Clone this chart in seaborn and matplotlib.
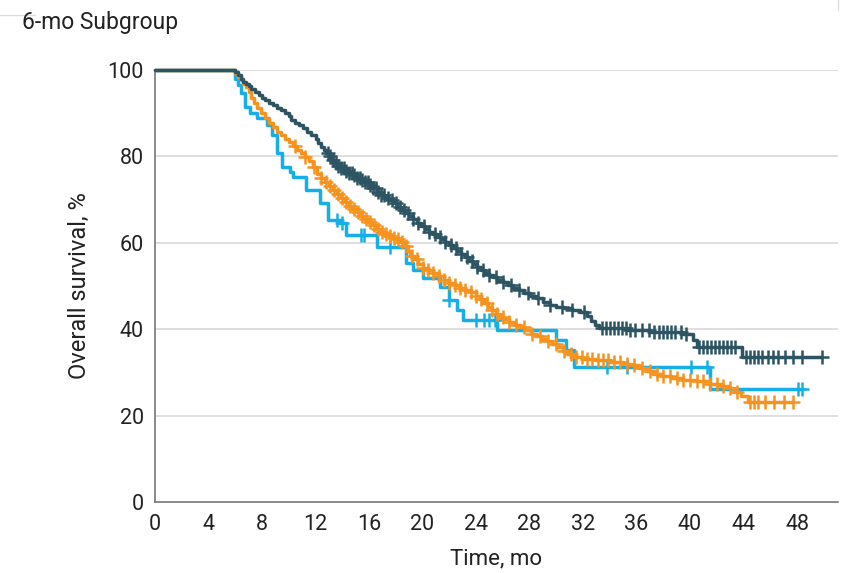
import numpy as np
import pandas as pd
import matplotlib
matplotlib.use("Agg")
import matplotlib.pyplot as plt
import matplotlib.lines as mlines
import seaborn as sns

# ---------------- data ----------------
# Kaplan-Meier step points (time in months, survival %)
dark_t = [0, 6.0, 6.2, 6.4, 6.6, 6.8, 7.0, 7.2, 7.5, 7.8, 8.0, 8.2, 8.5, 8.8, 9.1, 9.4, 9.7, 10.0,
          10.2, 10.5, 10.8, 11.1, 11.4, 11.7, 12.0, 12.2, 12.4, 12.6, 12.8, 13.0, 13.2, 13.4, 13.6,
          13.9, 14.2, 14.5, 14.8, 15.1, 15.4, 15.7, 16.0, 16.3, 16.6, 16.9, 17.2, 17.5, 17.8, 18.1,
          18.4, 18.7, 19.0, 19.3, 19.6, 19.9, 20.2, 20.5, 20.8, 21.1, 21.4, 21.7, 22.0, 22.3, 22.6,
          22.9, 23.2, 23.5, 23.8, 24.1, 24.4, 24.7, 25.0, 25.3, 25.6, 26.0, 26.4, 26.8, 27.2, 27.6,
          28.0, 28.5, 29.0, 29.5, 30.0, 30.6, 31.2, 31.8, 32.3, 32.6, 32.9, 33.2, 35.4, 37.0, 39.5,
          40.2, 40.5, 43.9, 49.9]
dark_s = [100, 99.5, 98.8, 98.0, 97.3, 96.8, 96.2, 95.6, 95.0, 94.2, 93.6, 93.0, 92.3, 91.8, 91.2,
          90.7, 90.1, 89.3, 88.5, 87.7, 87.2, 86.5, 85.7, 85.0, 84.0, 83.0, 82.2, 81.5, 80.8, 80.0,
          79.2, 78.5, 77.8, 77.2, 76.6, 76.1, 75.6, 75.0, 74.5, 74.0, 73.3, 72.6, 71.8, 71.0, 70.4,
          69.8, 69.1, 68.4, 67.7, 67.0, 66.3, 65.5, 64.6, 63.8, 63.2, 62.6, 62.0, 61.4, 60.8, 60.1,
          59.4, 58.8, 58.1, 57.4, 56.7, 55.9, 55.1, 54.4, 53.7, 53.1, 52.5, 52.0, 51.4, 50.9, 50.3,
          49.6, 49.0, 48.4, 47.8, 47.2, 46.3, 45.6, 45.2, 44.8, 44.4, 44.0, 43.0, 42.0, 41.0, 40.3,
          39.8, 39.3, 39.0, 37.5, 35.9, 33.6, 33.6]

orange_t = [0, 6.0, 6.2, 6.4, 6.6, 6.8, 7.0, 7.2, 7.4, 7.6, 7.9, 8.2, 8.5, 8.8, 9.1, 9.4, 9.7, 10.0,
            10.3, 10.6, 10.9, 11.2, 11.5, 11.8, 12.1, 12.4, 12.7, 13.0, 13.3, 13.6, 13.9, 14.2, 14.5,
            14.8, 15.1, 15.4, 15.7, 16.0, 16.3, 16.6, 16.9, 17.2, 17.5, 17.8, 18.1, 18.4, 18.7, 18.9,
            19.1, 19.4, 19.7, 20.0, 20.4, 20.8, 21.2, 21.6, 22.0, 22.4, 22.8, 23.2, 23.6, 24.0, 24.3,
            24.6, 24.9, 25.2, 25.5, 25.8, 26.1, 26.5, 26.9, 27.3, 27.7, 28.1, 28.5, 28.9, 29.3, 29.7,
            30.1, 30.5, 30.9, 31.3, 32.0, 33.0, 34.0, 35.0, 35.6, 36.2, 36.8, 37.3, 37.9, 38.6, 39.5,
            40.5, 41.5, 42.4, 42.9, 43.3, 43.8, 44.3, 47.7]
orange_s = [100, 99.2, 98.4, 97.6, 96.8, 96.0, 95.0, 93.6, 92.3, 91.2, 90.0, 88.8, 87.8, 86.8, 85.7,
            84.9, 84.1, 83.3, 82.5, 81.5, 80.7, 79.8, 78.9, 77.5, 76.0, 75.0, 74.0, 73.1, 72.2, 71.3,
            70.3, 69.4, 68.6, 67.9, 67.1, 66.3, 65.6, 64.9, 64.1, 63.3, 62.5, 62.0, 61.6, 61.2, 60.8,
            60.2, 59.2, 58.0, 57.0, 56.2, 55.0, 54.2, 53.6, 52.9, 52.2, 51.4, 50.7, 50.2, 49.6, 49.1,
            48.5, 47.8, 46.9, 46.0, 45.2, 44.4, 43.6, 42.9, 42.3, 41.7, 41.0, 40.4, 39.7, 39.0, 38.4,
            37.8, 37.2, 36.6, 35.8, 35.0, 34.2, 33.6, 33.2, 32.8, 32.4, 32.0, 31.6, 31.0, 30.3, 29.7,
            29.1, 28.7, 28.3, 27.9, 27.4, 26.9, 26.4, 25.5, 24.6, 23.2, 23.2]

cyan_t = [0, 6.0, 6.2, 6.4, 6.7, 7.1, 7.6, 8.4, 8.75, 9.1, 9.5, 10.1, 10.3, 11.3, 12.3, 12.9, 13.8,
          14.3, 16.6, 18.3, 18.8, 19.3, 20.0, 21.3, 22.0, 22.6, 23.0, 25.6, 30.0, 30.7, 31.3, 41.5,
          48.4]
cyan_s = [100, 98.0, 96.5, 94.6, 91.4, 90.0, 88.8, 87.3, 85.0, 80.8, 77.6, 76.4, 75.2, 72.2, 69.2,
          65.3, 64.6, 61.8, 59.0, 59.0, 55.3, 53.7, 51.8, 49.8, 46.8, 44.4, 42.1, 39.8, 37.5, 35.2,
          31.3, 26.1, 26.1]

# censoring times (months)
dark_cens = [12.9, 13.1, 13.3, 13.5, 13.7, 13.9, 14.1, 14.3, 14.5, 14.7, 14.9, 15.1, 15.3, 15.5,
             15.7, 15.9, 16.1, 16.3, 16.5, 16.7, 16.9, 17.1, 17.4, 17.7, 18.0, 18.3, 18.6, 18.9,
             19.3, 19.7, 20.1, 20.5, 20.9, 21.3, 21.7, 22.1, 22.5, 22.9, 23.3, 23.7, 24.1, 24.5,
             25.0, 25.5, 26.0, 26.6, 27.2, 27.9, 28.6, 29.5, 30.4, 31.2, 32.1, 33.4, 33.7, 34.0,
             34.3, 34.6, 34.9, 35.2, 35.5, 35.9, 36.4, 36.9, 37.3, 37.7, 38.0, 38.3, 38.6, 38.9,
             39.3, 39.7, 40.7, 41.0, 41.3, 41.6, 41.9, 42.2, 42.5, 42.8, 43.1, 43.4, 44.2, 44.5,
             44.8, 45.1, 45.4, 45.8, 46.2, 46.6, 47.1, 47.7, 48.4, 49.9]
orange_cens = [10.5, 11.2, 11.9, 12.4, 12.8, 13.1, 13.4, 13.7, 14.0, 14.3, 14.6, 14.9, 15.2, 15.5,
               15.8, 16.1, 16.4, 16.7, 17.0, 17.3, 17.6, 17.9, 18.2, 18.5, 18.8, 19.2, 19.6, 20.0,
               20.4, 20.8, 21.2, 21.6, 22.0, 22.4, 22.8, 23.2, 23.6, 24.0, 24.4, 24.8, 25.2, 25.6,
               26.0, 26.5, 27.0, 27.6, 28.2, 28.8, 29.4, 30.0, 30.6, 31.1, 31.5, 31.9, 32.3, 32.7,
               33.1, 33.5, 33.9, 34.3, 34.8, 35.3, 35.8, 36.4, 37.0, 37.5, 38.0, 38.5, 39.0, 39.5,
               40.0, 40.5, 41.0, 41.5, 42.0, 42.5, 43.0, 43.5, 44.5, 44.8, 45.1, 45.6, 46.3, 47.0,
               47.7]
cyan_cens = [13.6, 14.0, 15.4, 15.6, 17.6, 22.0, 24.0, 24.6, 25.0, 25.4, 33.8, 35.3, 40.1, 41.3,
             48.1, 48.4]

x_ticks = list(range(0, 49, 4))
y_ticks = [0, 20, 40, 60, 80, 100]

colors = {"dark": "#2c5462", "orange": "#f6931f", "cyan": "#16aee6"}

# ---------------- plot ----------------
sns.set_style("white")
plt.rcParams["font.family"] = ["Roboto", "DejaVu Sans"]

fig = plt.figure(figsize=(8.41, 5.73), dpi=100)
ax = fig.add_axes([155 / 841, 71 / 573, 683 / 841, 432 / 573])

for y in y_ticks[1:]:
    ax.axhline(y, color="#dcdcdc", lw=1.3, zorder=0)


def surv_at(ts, ss, c):
    i = np.searchsorted(ts, c, side="right") - 1
    return ss[i]


groups = [("cyan", cyan_t, cyan_s, cyan_cens),
          ("orange", orange_t, orange_s, orange_cens),
          ("dark", dark_t, dark_s, dark_cens)]

for name, ts, ss, cens in groups:
    curve = pd.DataFrame({"t": ts, "s": ss})
    sns.lineplot(data=curve, x="t", y="s", ax=ax, color=colors[name], lw=2.5,
                 drawstyle="steps-post", estimator=None, sort=False, clip_on=False, zorder=3)
    marks = pd.DataFrame({"t": cens, "s": [surv_at(ts, ss, c) for c in cens]})
    sns.scatterplot(data=marks, x="t", y="s", ax=ax, marker="+", color=colors[name],
                    s=110, linewidth=1.8, zorder=4, clip_on=False)

ax.set_xlim(0, 683 / 13.375)
ax.set_ylim(0, 100)
ax.set_xticks(x_ticks)
ax.set_yticks(y_ticks)
ax.tick_params(axis="both", direction="out", length=6, width=1.2, color="#777777",
               labelsize=15.5, labelcolor="#222222", pad=3)
ax.tick_params(axis="y", pad=2)

for side in ["top", "right"]:
    ax.spines[side].set_visible(False)
for side in ["left", "bottom"]:
    ax.spines[side].set_color("#777777")
    ax.spines[side].set_linewidth(1.2)

ax.set_xlabel("Time, mo", fontsize=16, color="#222222", labelpad=9)
ax.set_ylabel("Overall survival, %", fontsize=17, color="#222222", labelpad=12)

fig.text(22 / 841, 1 - 22 / 573, "6-mo Subgroup", fontsize=16.5, color="#222222",
         ha="left", va="center")

# faint panel frame fragments at the top corners
fig.add_artist(mlines.Line2D([0, 35 / 841], [1 - 15 / 573, 1 - 15 / 573],
                             color="#dddddd", lw=1))
fig.add_artist(mlines.Line2D([838 / 841, 838 / 841], [1, 1 - 10 / 573],
                             color="#dddddd", lw=1))

fig.savefig("out.png", dpi=100)
